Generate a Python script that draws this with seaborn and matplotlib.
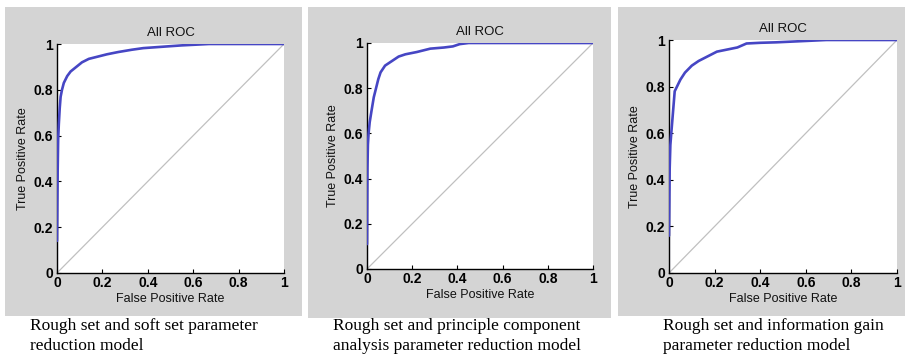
import numpy as np
import pandas as pd
import seaborn as sns
import matplotlib.pyplot as plt
from matplotlib.patches import Rectangle

# ROC points
fpr_1 = [0, 0.0, 0.003, 0.005, 0.008, 0.012, 0.016, 0.022, 0.03, 0.045, 0.06, 0.085,
         0.11, 0.14, 0.18, 0.22, 0.27, 0.33, 0.38, 0.45, 0.55, 0.67, 1.0]
tpr_1 = [0, 0.28, 0.45, 0.58, 0.65, 0.72, 0.77, 0.80, 0.83, 0.86, 0.88, 0.90,
         0.92, 0.935, 0.945, 0.955, 0.965, 0.975, 0.982, 0.987, 0.994, 1.0, 1.0]

fpr_2 = [0, 0.0, 0.002, 0.004, 0.007, 0.012, 0.02, 0.03, 0.04, 0.05, 0.06, 0.08,
         0.11, 0.14, 0.17, 0.22, 0.28, 0.34, 0.38, 0.41, 0.45, 1.0]
tpr_2 = [0, 0.22, 0.45, 0.55, 0.60, 0.65, 0.70, 0.76, 0.80, 0.84, 0.87, 0.90,
         0.92, 0.94, 0.95, 0.96, 0.975, 0.98, 0.985, 0.995, 1.0, 1.0]

fpr_3 = [0, 0.0, 0.003, 0.006, 0.01, 0.015, 0.02, 0.025, 0.035, 0.05, 0.07, 0.1,
         0.13, 0.17, 0.21, 0.26, 0.3, 0.34, 0.4, 0.47, 0.58, 0.69, 1.0]
tpr_3 = [0, 0.32, 0.45, 0.55, 0.60, 0.66, 0.72, 0.78, 0.80, 0.83, 0.86, 0.89,
         0.91, 0.93, 0.95, 0.96, 0.968, 0.985, 0.988, 0.99, 0.995, 1.0, 1.0]

diag = [0, 1]
ticks = [0, 0.2, 0.4, 0.6, 0.8, 1]
tick_labels = ["0", "0.2", "0.4", "0.6", "0.8", "1"]

captions = [
    "Rough set and soft set parameter\nreduction model",
    "Rough set and principle component\nanalysis parameter reduction model",
    "Rough set and information gain\nparameter reduction model",
]

sns.set_theme(style="white")
plt.rcParams["font.family"] = ["Liberation Sans", "DejaVu Sans"]

W, H = 907, 358
fig = plt.figure(figsize=(W / 100, H / 100), dpi=100)
fig.patch.set_facecolor("white")

# gray panel backgrounds (pixel boxes: left, top, right, bottom)
panels = [(5, 7, 302, 316), (308, 7, 611, 318), (618, 7, 905, 316)]
for l, t, r, b in panels:
    fig.patches.append(Rectangle((l / W, 1 - b / H), (r - l) / W, (b - t) / H,
                                 transform=fig.transFigure, facecolor="#d4d4d4",
                                 edgecolor="none", zorder=-5))

axes_px = [(57, 44, 284, 273), (367, 43, 593, 269), (669, 40, 897, 273)]
caption_pos = [(30, 318), (333, 318), (663, 318)]
curves = [(fpr_1, tpr_1), (fpr_2, tpr_2), (fpr_3, tpr_3)]

for (l, t, r, b), (fx, ty), cap, (cx, cy) in zip(axes_px, curves, captions, caption_pos):
    ax = fig.add_axes([l / W, 1 - b / H, (r - l) / W, (b - t) / H])
    ax.set_zorder(5)
    ax.set_facecolor("white")
    ax.plot(diag, diag, color="#c0c0c0", lw=0.9, zorder=1)
    df = pd.DataFrame({"fpr": fx, "tpr": ty})
    sns.lineplot(data=df, x="fpr", y="tpr", sort=False, color="#4646c4",
                 lw=1.9, ax=ax, zorder=3)
    ax.set_xlim(0, 1)
    ax.set_ylim(0, 1)
    ax.set_xticks(ticks)
    ax.set_xticklabels(tick_labels, fontsize=10, fontweight="bold")
    ax.set_yticks(ticks)
    ax.set_yticklabels(tick_labels, fontsize=10, fontweight="bold")
    ax.tick_params(direction="in", length=3, width=0.8, colors="black")
    ax.tick_params(axis="x", bottom=True, pad=2)
    ax.tick_params(axis="y", left=True, pad=3)
    for s in ["top", "right"]:
        ax.spines[s].set_visible(False)
    for s in ["left", "bottom"]:
        ax.spines[s].set_color("black")
        ax.spines[s].set_linewidth(1.0)
    ax.set_xlabel("False Positive Rate", fontsize=9, labelpad=2, color="#111111")
    ax.set_ylabel("True Positive Rate", fontsize=9, labelpad=3, color="#111111")
    ax.set_title("All ROC", fontsize=9.5, pad=6, color="#111111")
    fig.text(cx / W, 1 - cy / H, cap, ha="left", va="top", fontsize=12.5,
             color="black", family=["Liberation Serif", "DejaVu Serif"],
             linespacing=1.3)

fig.savefig("out.png", dpi=100)
